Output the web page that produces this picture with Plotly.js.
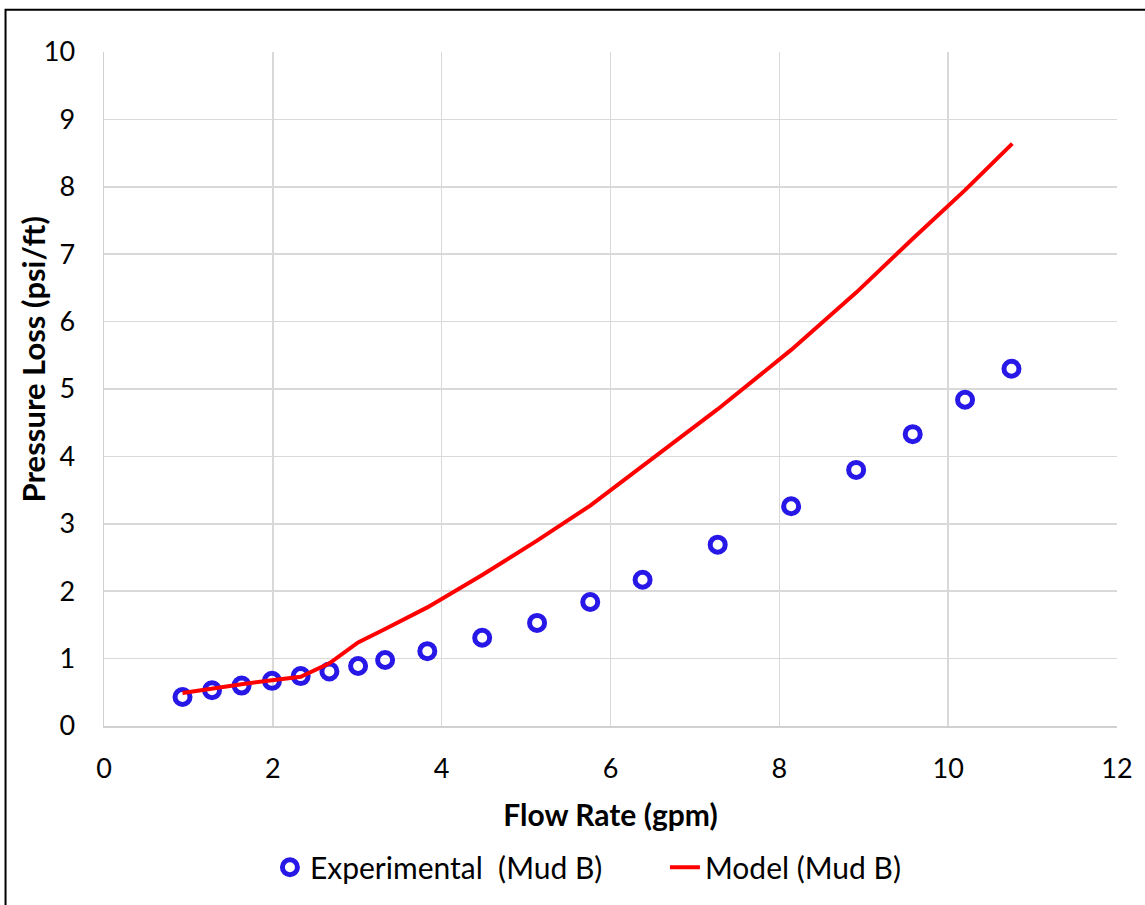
<!DOCTYPE html>
<html>
<head>
<meta charset="utf-8">
<script src="https://cdn.plot.ly/plotly-3.0.1.min.js"></script>
<style>
html,body{margin:0;padding:0;background:#fff;}
#chart{width:1145px;height:905px;}
</style>
</head>
<body>
<div id="chart"></div>
<script>
// Experimental data (Mud B)
const expFlow = [0.93, 1.28, 1.63, 1.99, 2.33, 2.67, 3.01, 3.33, 3.83, 4.48, 5.13, 5.76, 6.38, 7.27, 8.14, 8.91, 9.58, 10.20, 10.75];
const expLoss = [0.43, 0.53, 0.60, 0.67, 0.74, 0.81, 0.89, 0.98, 1.11, 1.31, 1.53, 1.84, 2.17, 2.69, 3.26, 3.80, 4.33, 4.84, 5.30];
// Model (Mud B)
const modelFlow = [0.93, 1.28, 1.63, 1.99, 2.33, 2.67, 3.01, 3.33, 3.83, 4.48, 5.13, 5.76, 6.38, 7.27, 8.14, 8.91, 9.58, 10.20, 10.76];
const modelLoss = [0.49, 0.56, 0.62, 0.68, 0.73, 0.93, 1.24, 1.44, 1.76, 2.24, 2.75, 3.27, 3.85, 4.70, 5.58, 6.43, 7.23, 7.95, 8.64];

const xTicks = [0, 2, 4, 6, 8, 10, 12];
const yTicks = [0, 1, 2, 3, 4, 5, 6, 7, 8, 9, 10];

const xTitle = 'Flow Rate (gpm)';
const yTitle = 'Pressure Loss (psi/ft)';

const FONT = 'Lato, "Open Sans", sans-serif';

const traces = [
  {
    x: expFlow, y: expLoss,
    type: 'scatter', mode: 'markers',
    name: 'Experimental\u00a0 (Mud B)',
    marker: {symbol: 'circle-open', size: 15, color: 'rgb(40,24,232)', line: {width: 5, color: 'rgb(40,24,232)'}}
  },
  {
    x: modelFlow, y: modelLoss,
    type: 'scatter', mode: 'lines',
    name: 'Model (Mud B)',
    line: {color: '#ff0000', width: 4}
  }
];

const layout = {
  width: 1145, height: 905,
  paper_bgcolor: '#ffffff', plot_bgcolor: '#ffffff',
  margin: {l: 104, r: 27.5, t: 52, b: 179.3, pad: 0},
  font: {family: FONT, size: 26, color: '#000'},
  showlegend: true,
  legend: {
    orientation: 'h', x: 0.1638, xanchor: 'left', y: -0.171, yanchor: 'top',
    font: {family: FONT, size: 30, color: '#000'},
    bgcolor: 'rgba(0,0,0,0)', itemwidth: 30, entrywidth: 350
  },
  xaxis: {
    range: [0, 12], tickvals: xTicks, ticktext: xTicks.map(String),
    showgrid: true, gridcolor: '#d9d9d9', gridwidth: 1.5,
    showline: true, linecolor: '#d0d0d0', linewidth: 1.5,
    zeroline: false, ticks: '', ticklabelstandoff: 18,
    tickfont: {family: FONT, size: 27, color: '#000'},
    title: {text: '<b>' + xTitle + '</b>', font: {family: FONT, size: 30, color: '#000'}, standoff: 22}
  },
  yaxis: {
    range: [0, 10], tickvals: yTicks, ticktext: yTicks.map(String),
    showgrid: true, gridcolor: '#d9d9d9', gridwidth: 1.5,
    showline: true, linecolor: '#d0d0d0', linewidth: 1.5,
    zeroline: false, ticks: '', ticklabelstandoff: 22,
    tickfont: {family: FONT, size: 27, color: '#000'}
  },
  annotations: [
    {text: '<b>' + yTitle + '</b>', xref: 'paper', yref: 'paper', x: -0.070, y: 0.544,
     xanchor: 'center', yanchor: 'middle', textangle: -90, showarrow: false,
     font: {family: FONT, size: 31, color: '#000'}}
  ],
  shapes: [
    {type: 'rect', xref: 'paper', yref: 'paper', x0: -0.0972, x1: 1.035, y0: -0.28, y1: 1.0626,
     line: {color: '#000', width: 2}, fillcolor: 'rgba(0,0,0,0)', layer: 'above'}
  ]
};

Plotly.newPlot('chart', traces, layout, {displayModeBar: false, staticPlot: true});
</script>
</body>
</html>
